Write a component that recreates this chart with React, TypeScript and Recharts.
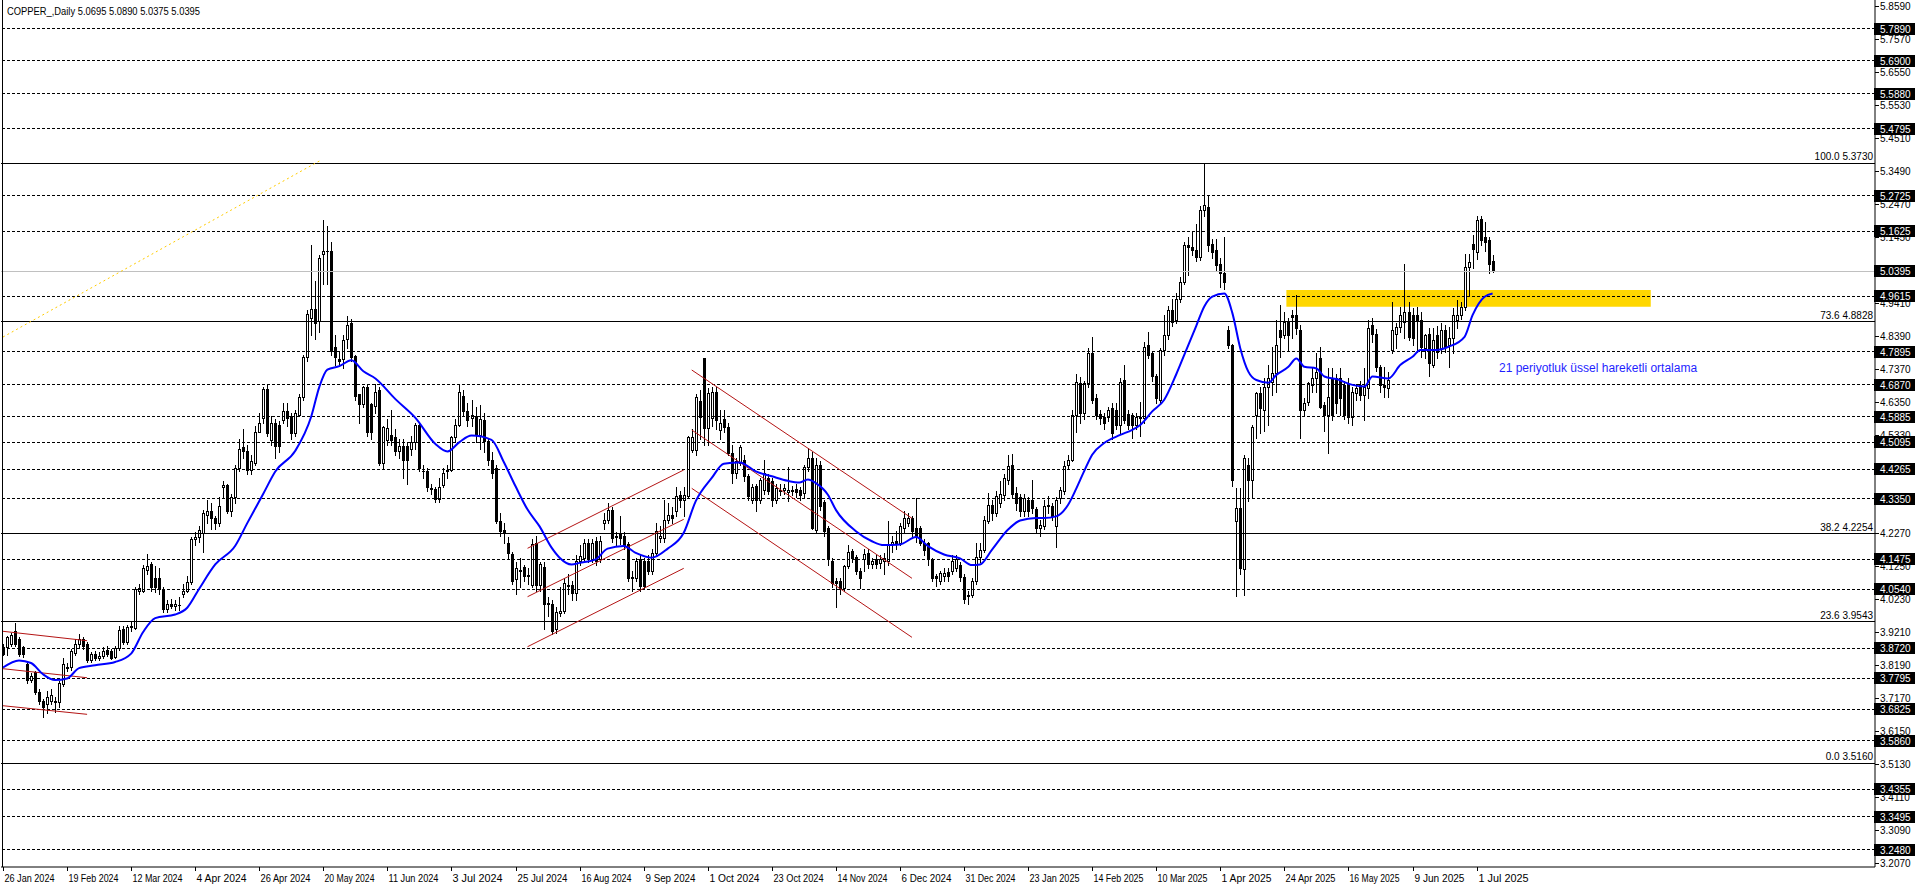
import React from "react";
import {
  ComposedChart,
  Bar,
  Line,
  XAxis,
  YAxis,
  ReferenceLine,
  ReferenceArea,
} from "recharts";

const W = 1916;
const H = 888;
const SLOTS = 468; // bar slots incl. empty space on the right
const Y_MIN = 3.1944;
const Y_MAX = 5.8786;
const FONT = "'Liberation Sans', Arial, sans-serif";

// daily candles [open, high, low, close], 26 Jan 2024 onwards
const BARS_2024_H1: number[][] = [
  [3.876,3.885,3.850,3.855],[3.876,3.910,3.850,3.905],[3.886,3.920,3.880,3.913],[3.925,3.951,3.880,3.886],
  [3.900,3.905,3.848,3.853],[3.876,3.880,3.845,3.853],[3.822,3.830,3.765,3.773],[3.773,3.795,3.768,3.786],
  [3.797,3.800,3.730,3.735],[3.737,3.745,3.700,3.707],[3.709,3.715,3.660,3.689],[3.699,3.740,3.670,3.722],
  [3.709,3.745,3.700,3.728],[3.709,3.720,3.675,3.706],[3.704,3.770,3.690,3.763],[3.761,3.840,3.755,3.824],
  [3.814,3.825,3.800,3.812],[3.814,3.870,3.805,3.864],[3.858,3.900,3.850,3.884],[3.884,3.915,3.875,3.900],
  [3.900,3.905,3.870,3.879],[3.886,3.890,3.830,3.836],[3.836,3.860,3.830,3.855],[3.853,3.862,3.835,3.841],
  [3.841,3.860,3.835,3.848],[3.848,3.875,3.840,3.864],[3.866,3.880,3.848,3.853],[3.864,3.870,3.838,3.843],
  [3.845,3.880,3.840,3.872],[3.872,3.940,3.865,3.927],[3.930,3.940,3.885,3.892],[3.892,3.945,3.885,3.936],
  [3.936,3.955,3.925,3.941],[3.935,4.060,3.930,4.056],[4.050,4.070,4.040,4.058],[4.050,4.130,4.045,4.120],
  [4.114,4.163,4.100,4.125],[4.131,4.140,4.050,4.061],[4.088,4.125,4.045,4.061],[4.088,4.120,4.040,4.056],
  [4.056,4.060,3.985,3.992],[3.992,4.020,3.985,4.008],[4.008,4.025,3.995,4.002],[4.002,4.020,3.990,4.008],
  [4.005,4.030,3.990,4.006],[4.040,4.070,4.030,4.050],[4.050,4.095,4.045,4.077],[4.077,4.215,4.070,4.211],
  [4.211,4.230,4.190,4.216],[4.216,4.250,4.200,4.237],[4.227,4.300,4.170,4.291],[4.285,4.330,4.260,4.296],
  [4.296,4.320,4.240,4.275],[4.275,4.280,4.240,4.259],[4.259,4.340,4.250,4.312],[4.371,4.390,4.340,4.376],
  [4.376,4.380,4.290,4.296],[4.296,4.350,4.280,4.339],[4.339,4.440,4.320,4.430],[4.430,4.520,4.420,4.488],
  [4.494,4.550,4.460,4.483],[4.483,4.500,4.410,4.424],[4.424,4.470,4.410,4.451],[4.446,4.560,4.440,4.542],
  [4.542,4.600,4.540,4.569],[4.585,4.680,4.570,4.675],[4.675,4.690,4.530,4.537],[4.515,4.590,4.500,4.569],
  [4.569,4.580,4.460,4.499],[4.563,4.575,4.480,4.499],[4.579,4.630,4.570,4.606],[4.606,4.630,4.560,4.585],
  [4.590,4.600,4.520,4.537],[4.537,4.610,4.530,4.601],[4.595,4.660,4.590,4.649],[4.649,4.780,4.640,4.772],
  [4.772,4.920,4.760,4.905],[4.894,5.120,4.840,4.921],[4.921,5.010,4.830,4.878],[4.884,5.090,4.850,5.081],
  [5.092,5.199,5.000,5.103],[5.103,5.180,5.000,5.100],[5.103,5.130,4.780,4.793],[4.804,4.840,4.750,4.772],
  [4.766,4.790,4.750,4.761],[4.766,4.840,4.740,4.825],[4.830,4.900,4.800,4.873],[4.878,4.890,4.760,4.772],
  [4.777,4.780,4.640,4.654],[4.659,4.660,4.570,4.627],[4.627,4.685,4.620,4.681],[4.681,4.690,4.530,4.542],
  [4.627,4.630,4.520,4.542],[4.622,4.690,4.600,4.665],[4.670,4.680,4.440,4.446],[4.446,4.560,4.430,4.558],
  [4.515,4.580,4.500,4.553],[4.531,4.610,4.500,4.515],[4.526,4.550,4.470,4.483],[4.483,4.520,4.460,4.499],
  [4.499,4.520,4.400,4.456],[4.499,4.510,4.380,4.456],[4.488,4.530,4.470,4.510],[4.510,4.570,4.490,4.563],
  [4.563,4.570,4.420,4.430],[4.421,4.440,4.400,4.419],[4.419,4.430,4.360,4.371],[4.368,4.380,4.350,4.366],
  [4.366,4.370,4.325,4.334],[4.334,4.400,4.325,4.371],[4.376,4.430,4.370,4.414],[4.419,4.440,4.400,4.424],
  [4.424,4.530,4.420,4.526],[4.526,4.580,4.510,4.563],[4.563,4.690,4.560,4.665],[4.654,4.670,4.590,4.606],
  [4.606,4.630,4.560,4.579],[4.584,4.640,4.560,4.594],[4.592,4.620,4.510,4.532],[4.532,4.625,4.490,4.580],
];

const BARS_2024_H2: number[][] = [
  [4.579,4.600,4.480,4.512],[4.512,4.520,4.440,4.455],[4.455,4.480,4.400,4.414],[4.430,4.440,4.260,4.265],
  [4.265,4.290,4.220,4.234],[4.239,4.260,4.198,4.229],[4.198,4.215,4.150,4.167],[4.162,4.170,4.070,4.080],
  [4.085,4.140,4.039,4.119],[4.113,4.150,4.060,4.111],[4.123,4.130,4.080,4.095],[4.098,4.120,4.070,4.095],
  [4.069,4.210,4.060,4.193],[4.198,4.220,4.050,4.069],[4.069,4.140,4.050,4.131],[4.123,4.140,3.930,4.008],
  [4.013,4.030,3.970,4.008],[4.010,4.020,3.915,3.925],[3.930,4.000,3.920,3.985],[3.982,4.060,3.970,3.987],
  [3.987,4.090,3.980,4.075],[4.064,4.100,4.040,4.069],[4.069,4.080,4.020,4.044],[4.044,4.160,4.020,4.141],
  [4.141,4.190,4.130,4.157],[4.152,4.210,4.140,4.198],[4.198,4.210,4.140,4.152],[4.147,4.210,4.140,4.198],
  [4.203,4.215,4.130,4.141],[4.147,4.220,4.140,4.203],[4.260,4.290,4.240,4.270],[4.270,4.320,4.260,4.301],
  [4.301,4.310,4.200,4.213],[4.218,4.230,4.190,4.215],[4.224,4.280,4.195,4.213],[4.218,4.230,4.180,4.188],
  [4.195,4.200,4.080,4.090],[4.093,4.110,4.049,4.090],[4.090,4.150,4.080,4.141],[4.147,4.160,4.050,4.064],
  [4.141,4.150,4.055,4.064],[4.141,4.160,4.100,4.111],[4.111,4.180,4.100,4.167],[4.167,4.260,4.160,4.234],
  [4.213,4.250,4.200,4.218],[4.213,4.330,4.200,4.270],[4.270,4.320,4.260,4.285],[4.285,4.310,4.260,4.275],
  [4.296,4.370,4.280,4.342],[4.347,4.360,4.310,4.332],[4.332,4.370,4.280,4.347],[4.342,4.530,4.340,4.527],
  [4.486,4.550,4.480,4.527],[4.486,4.660,4.470,4.648],[4.638,4.670,4.520,4.589],[4.769,4.771,4.500,4.553],
  [4.553,4.677,4.500,4.661],[4.584,4.680,4.560,4.664],[4.664,4.680,4.550,4.579],[4.548,4.610,4.520,4.568],
  [4.582,4.610,4.540,4.558],[4.558,4.570,4.470,4.476],[4.476,4.500,4.383,4.414],[4.414,4.460,4.400,4.450],
  [4.445,4.500,4.440,4.496],[4.455,4.470,4.390,4.404],[4.404,4.410,4.330,4.342],[4.332,4.380,4.320,4.370],
  [4.373,4.380,4.296,4.332],[4.332,4.400,4.320,4.394],[4.363,4.455,4.350,4.414],[4.399,4.410,4.350,4.358],
  [4.389,4.400,4.311,4.332],[4.332,4.380,4.320,4.368],[4.363,4.380,4.345,4.360],[4.363,4.380,4.350,4.368],
  [4.355,4.432,4.327,4.363],[4.363,4.375,4.345,4.358],[4.366,4.380,4.340,4.355],[4.363,4.370,4.330,4.347],
  [4.352,4.440,4.340,4.432],[4.432,4.491,4.420,4.460],[4.460,4.480,4.240,4.244],[4.239,4.460,4.230,4.440],
  [4.440,4.450,4.300,4.311],[4.325,4.330,4.220,4.234],[4.244,4.250,4.130,4.147],[4.141,4.150,4.060,4.075],
  [4.080,4.090,3.998,4.075],[4.080,4.090,4.040,4.059],[4.059,4.130,4.050,4.126],[4.126,4.190,4.120,4.170],
  [4.172,4.180,4.140,4.152],[4.154,4.160,4.100,4.111],[4.111,4.120,4.059,4.090],[4.147,4.180,4.110,4.164],
  [4.167,4.180,4.120,4.131],[4.131,4.150,4.120,4.141],[4.147,4.160,4.120,4.131],[4.136,4.160,4.120,4.147],
  [4.141,4.165,4.100,4.152],[4.141,4.265,4.130,4.195],[4.195,4.220,4.170,4.201],[4.203,4.234,4.180,4.195],
  [4.198,4.260,4.190,4.249],[4.244,4.296,4.230,4.275],[4.260,4.290,4.250,4.275],[4.275,4.280,4.220,4.234],
  [4.244,4.337,4.200,4.218],[4.244,4.250,4.190,4.198],[4.198,4.210,4.160,4.177],[4.198,4.200,4.130,4.147],
  [4.147,4.150,4.080,4.090],[4.095,4.100,4.065,4.090],[4.080,4.110,4.070,4.105],[4.095,4.120,4.080,4.105],
  [4.108,4.120,4.080,4.095],
];

const BARS_2025: number[][] = [
  [4.110,4.160,4.100,4.141],[4.121,4.160,4.110,4.147],[4.128,4.140,4.080,4.092],[4.092,4.100,4.013,4.023],
  [4.033,4.050,4.010,4.038],[4.038,4.090,4.030,4.080],[4.080,4.198,4.070,4.154],[4.154,4.198,4.140,4.177],
  [4.177,4.280,4.170,4.270],[4.265,4.352,4.260,4.316],[4.316,4.330,4.270,4.291],[4.291,4.360,4.280,4.342],
  [4.321,4.390,4.310,4.349],[4.347,4.410,4.330,4.399],[4.394,4.470,4.380,4.435],[4.438,4.473,4.340,4.349],
  [4.352,4.370,4.300,4.321],[4.339,4.350,4.280,4.296],[4.296,4.350,4.280,4.337],[4.332,4.340,4.280,4.296],
  [4.332,4.394,4.290,4.306],[4.304,4.310,4.230,4.244],[4.244,4.270,4.220,4.254],[4.249,4.330,4.240,4.311],
  [4.311,4.342,4.290,4.316],[4.311,4.320,4.270,4.280],[4.249,4.340,4.185,4.332],[4.337,4.370,4.320,4.363],
  [4.357,4.450,4.350,4.435],[4.440,4.470,4.430,4.455],[4.455,4.610,4.450,4.594],[4.594,4.720,4.540,4.697],
  [4.692,4.710,4.570,4.599],[4.599,4.700,4.580,4.692],[4.692,4.800,4.680,4.785],[4.785,4.836,4.630,4.641],
  [4.646,4.660,4.580,4.594],[4.596,4.610,4.565,4.584],[4.589,4.600,4.550,4.568],[4.589,4.620,4.575,4.610],
  [4.615,4.630,4.520,4.538],[4.610,4.630,4.550,4.563],[4.563,4.707,4.538,4.697],[4.702,4.749,4.570,4.579],
  [4.596,4.610,4.550,4.563],[4.594,4.600,4.522,4.563],[4.563,4.600,4.550,4.589],[4.589,4.635,4.530,4.584],
  [4.584,4.820,4.570,4.805],[4.810,4.851,4.770,4.779],[4.785,4.790,4.700,4.713],[4.713,4.720,4.630,4.646],
  [4.641,4.800,4.630,4.795],[4.795,4.903,4.780,4.841],[4.841,4.930,4.830,4.918],[4.918,4.954,4.870,4.882],
  [4.887,4.970,4.880,4.954],[4.954,5.020,4.945,5.006],[5.006,5.130,5.000,5.119],[5.119,5.145,5.026,5.114],
  [5.114,5.160,5.090,5.104],[5.104,5.186,5.070,5.083],[5.083,5.240,5.075,5.227],[5.227,5.373,5.210,5.243],
  [5.237,5.273,5.100,5.119],[5.124,5.140,5.080,5.098],[5.104,5.140,5.040,5.057],[5.062,5.080,4.990,5.032],
  [5.032,5.145,4.985,5.006],[4.857,4.870,4.800,4.810],[4.810,4.815,4.373,4.394],[4.265,4.368,4.033,4.306],
  [4.306,4.368,4.100,4.121],[4.116,4.470,4.038,4.462],[4.440,4.460,4.327,4.394],[4.394,4.563,4.337,4.558],
  [4.594,4.666,4.522,4.661],[4.661,4.682,4.538,4.615],[4.610,4.707,4.543,4.682],[4.682,4.749,4.563,4.707],
  [4.697,4.805,4.656,4.723],[4.723,4.888,4.666,4.810],[4.857,4.934,4.774,4.836],[4.841,4.913,4.831,4.882],
  [4.882,4.893,4.795,4.841],[4.903,4.918,4.831,4.898],[4.903,4.965,4.846,4.862],[4.857,4.872,4.522,4.610],
  [4.610,4.646,4.594,4.630],[4.635,4.697,4.625,4.692],[4.687,4.738,4.666,4.707],[4.707,4.785,4.666,4.728],
  [4.769,4.805,4.615,4.620],[4.625,4.635,4.543,4.594],[4.594,4.738,4.476,4.651],[4.707,4.738,4.579,4.594],
  [4.707,4.720,4.600,4.630],[4.707,4.738,4.594,4.646],[4.687,4.700,4.580,4.594],[4.687,4.707,4.568,4.589],
  [4.589,4.682,4.563,4.666],[4.661,4.690,4.640,4.677],[4.687,4.700,4.640,4.656],[4.656,4.738,4.579,4.682],
  [4.677,4.888,4.646,4.862],[4.872,4.893,4.820,4.846],[4.846,4.860,4.730,4.743],[4.743,4.750,4.666,4.687],
  [4.687,4.743,4.651,4.682],[4.677,4.728,4.651,4.702],[4.795,4.944,4.785,4.857],[4.846,4.880,4.800,4.867],
  [4.867,4.929,4.850,4.903],[4.882,5.062,4.831,4.913],[4.913,4.944,4.826,4.836],[4.903,4.924,4.810,4.831],
  [4.903,4.929,4.790,4.888],[4.888,4.913,4.774,4.805],[4.800,4.846,4.769,4.841],[4.846,4.862,4.713,4.754],
  [4.749,4.862,4.743,4.826],[4.841,4.870,4.770,4.790],[4.800,4.880,4.785,4.857],[4.857,4.872,4.790,4.805],
  [4.810,4.867,4.743,4.831],[4.831,4.924,4.785,4.903],[4.888,4.949,4.862,4.903],[4.903,4.944,4.890,4.929],
  [4.929,5.093,4.918,5.052],[5.052,5.093,4.965,5.068],[5.124,5.150,5.050,5.109],[5.098,5.210,5.078,5.196],
  [5.201,5.210,5.120,5.135],[5.145,5.190,5.100,5.129],[5.135,5.145,5.032,5.062],[5.0695,5.089,5.0375,5.0395],
];

// 21 period EMA read at these bars
const EMA_AT = [
  0, 4, 7, 10, 13, 16, 19, 23, 28, 32, 35, 38, 43, 46, 49, 53, 58, 61, 65, 68, 73, 77, 79, 81, 84, 87, 90, 93,
  98, 103, 108, 111, 114, 117, 122, 125, 128, 131, 134, 137, 139, 142, 144, 148, 151, 155, 158, 162, 166, 170,
  173, 177, 180, 184, 188, 192, 196, 199, 201, 203, 206, 208, 213, 217, 220, 224, 228, 231, 235, 239, 242, 244,
  247, 251, 254, 258, 260, 263, 266, 268, 270, 272, 275, 279, 282, 284, 287, 290, 293, 295, 298, 300, 302, 305,
  307, 309, 311, 313, 316, 318, 321, 323, 325, 328, 330, 333, 337, 340, 342, 346, 349, 352, 354, 358, 361, 365,
  367, 370, 372,
];
const EMA_VALUES = [
  3.812, 3.834, 3.826, 3.791, 3.773, 3.778, 3.810, 3.819, 3.829, 3.855, 3.922, 3.965, 3.976, 3.997, 4.056, 4.131,
  4.189, 4.259, 4.350, 4.419, 4.483, 4.590, 4.681, 4.734, 4.745, 4.763, 4.729, 4.707, 4.643, 4.585, 4.504, 4.481,
  4.510, 4.530, 4.517, 4.450, 4.373, 4.301, 4.249, 4.183, 4.152, 4.131, 4.136, 4.147, 4.180, 4.188, 4.167, 4.152,
  4.180, 4.229, 4.327, 4.399, 4.443, 4.447, 4.419, 4.404, 4.390, 4.385, 4.394, 4.383, 4.347, 4.300, 4.234, 4.203,
  4.191, 4.193, 4.216, 4.188, 4.162, 4.150, 4.129, 4.131, 4.177, 4.239, 4.267, 4.275, 4.275, 4.280, 4.316, 4.365,
  4.420, 4.471, 4.507, 4.532, 4.548, 4.563, 4.605, 4.641, 4.720, 4.780, 4.870, 4.930, 4.960, 4.970, 4.910, 4.800,
  4.728, 4.702, 4.694, 4.718, 4.743, 4.769, 4.743, 4.738, 4.713, 4.705, 4.687, 4.682, 4.713, 4.707, 4.749, 4.774,
  4.795, 4.795, 4.805, 4.836, 4.903, 4.960, 4.970,
];

const DATE_LABELS = [
  "26 Jan 2024", "19 Feb 2024", "12 Mar 2024", "4 Apr 2024", "26 Apr 2024", "20 May 2024", "11 Jun 2024",
  "3 Jul 2024", "25 Jul 2024", "16 Aug 2024", "9 Sep 2024", "1 Oct 2024", "23 Oct 2024", "14 Nov 2024",
  "6 Dec 2024", "31 Dec 2024", "23 Jan 2025", "14 Feb 2025", "10 Mar 2025", "1 Apr 2025", "24 Apr 2025",
  "16 May 2025", "9 Jun 2025", "1 Jul 2025",
];
const DATE_STEP = 16;

const Y_TICKS = [
  5.859, 5.757, 5.655, 5.553, 5.451, 5.349, 5.247, 5.145, 5.043, 4.941, 4.839, 4.737, 4.635, 4.533,
  4.431, 4.329, 4.227, 4.125, 4.023, 3.921, 3.819, 3.717, 3.615, 3.513, 3.411, 3.309, 3.207,
];

// dashed horizontal levels
const LEVELS = [
  5.789, 5.69, 5.588, 5.4795, 5.2725, 5.1625, 4.9615, 4.7895, 4.687, 4.5885, 4.5095, 4.4265, 4.335,
  4.1475, 4.054, 3.872, 3.7795, 3.6825, 3.586, 3.4355, 3.3495, 3.248,
];
const LAST_PRICE = 5.0395;

const FIB_LEVELS = ["100.0", "73.6", "38.2", "23.6", "0.0"];
const FIB_PRICES = [5.373, 4.8828, 4.2254, 3.9543, 3.516];

// trend lines: [bar1, price1, bar2, price2]
const RED_LINES = [
  [0, 3.9241, 21, 3.895],
  [0, 3.8083, 21, 3.7804],
  [0, 3.6937, 21, 3.6671],
  [131, 4.1811, 170, 4.4235],
  [131, 4.0312, 170, 4.2708],
  [131, 3.8764, 170, 4.1191],
  [172, 4.7331, 227, 4.2739],
  [172, 4.5473, 227, 4.0882],
  [172, 4.3668, 227, 3.9055],
];
const FIB_TREND = [0, 4.8352, 79, 5.3801];
const ZONE = [321, 411, 4.929, 4.981];

const CANDLES = [...BARS_2024_H1, ...BARS_2024_H2, ...BARS_2025];
const EMA_BY_BAR = new Map(EMA_AT.map((b, k) => [b, EMA_VALUES[k]]));
const BOXED = new Set([...LEVELS, LAST_PRICE]);

const DATA = Array.from({ length: SLOTS }, (_, i) => {
  const c = CANDLES[i];
  return {
    i,
    ohlc: c ?? null,
    range: c ? [c[2], c[1]] : null,
    ema: EMA_BY_BAR.has(i) ? EMA_BY_BAR.get(i) : null,
  };
});

function Candle(props: any) {
  const { x, y, width, height, payload } = props;
  if (!payload || !payload.ohlc || x == null) return null;
  const [o, h, l, c] = payload.ohlc;
  const top = Math.min(y, y + height);
  const bot = Math.max(y, y + height);
  const py = (v: number) => (h === l ? top : top + ((h - v) / (h - l)) * (bot - top));
  const px = Math.round(x + width / 2) + 0.5;
  const b1 = Math.round(Math.min(py(o), py(c)));
  const b2 = Math.round(Math.max(py(o), py(c)));
  return (
    <g shapeRendering="crispEdges">
      <line x1={px} x2={px} y1={Math.round(top)} y2={Math.round(bot) + 1} stroke="#000" />
      {b2 - b1 < 1 ? (
        <line x1={px - 1.5} x2={px + 1.5} y1={b1 + 0.5} y2={b1 + 0.5} stroke="#000" />
      ) : (
        <rect x={px - 1} y={b1 + 0.5} width={2} height={b2 - b1} fill={c >= o ? "#fff" : "#000"} stroke="#000" />
      )}
    </g>
  );
}

function PriceTick(props: any) {
  const { x, y, payload } = props;
  const v = payload.value as number;
  const yy = Math.round(y);
  if (BOXED.has(v)) {
    return (
      <g>
        <rect x={x - 1} y={yy - 6} width={41} height={12} fill="#000" />
        <text x={x + 5} y={yy + 4} fill="#fff" fontSize={10} fontFamily={FONT}>
          {v.toFixed(4)}
        </text>
      </g>
    );
  }
  return (
    <g>
      <line x1={x} x2={x + 4} y1={yy + 0.5} y2={yy + 0.5} stroke="#000" />
      <text x={x + 5} y={yy + 4} fill="#000" fontSize={10} fontFamily={FONT}>
        {v.toFixed(4)}
      </text>
    </g>
  );
}

function DateTick(props: any) {
  const { x, y, payload } = props;
  const label = DATE_LABELS[Math.round(payload.value / DATE_STEP)];
  const px = Math.round(x) + 0.5;
  return (
    <g>
      <line x1={px} x2={px} y1={y} y2={y + 4} stroke="#000" />
      <text x={px + 1} y={y + 15} fill="#000" fontSize={10} fontFamily={FONT} textLength={50} lengthAdjust="spacingAndGlyphs">
        {label}
      </text>
    </g>
  );
}

function fibLabel(text: string) {
  return (p: any) => {
    const vb = p.viewBox || {};
    return (
      <text x={vb.x + vb.width - 2} y={vb.y - 3} textAnchor="end" fontSize={10} fontFamily={FONT} fill="#000">
        {text}
      </text>
    );
  };
}

export default function App() {
  const dateTicks = DATE_LABELS.map((_, k) => k * DATE_STEP);
  return (
    <div style={{ position: "relative", width: W, height: H, background: "#fff", overflow: "hidden" }}>
      <style>{`body{margin:0}`}</style>
      <ComposedChart
        width={W}
        height={H}
        data={DATA}
        margin={{ top: 0, right: 0, bottom: 0, left: 1 }}
        barCategoryGap={0}
        barGap={0}
      >
        <XAxis
          dataKey="i"
          type="category"
          ticks={dateTicks}
          interval={0}
          height={21}
          tickLine={false}
          tickSize={0}
          tickMargin={0}
          tick={<DateTick />}
          axisLine={{ stroke: "#000" }}
        />
        <YAxis
          orientation="right"
          type="number"
          domain={[Y_MIN, Y_MAX]}
          allowDataOverflow
          ticks={[...Y_TICKS, ...LEVELS, LAST_PRICE]}
          interval={0}
          width={41}
          tickLine={false}
          tickSize={0}
          tickMargin={0}
          tick={<PriceTick />}
          axisLine={{ stroke: "#000" }}
        />
        <ReferenceArea
          x1={ZONE[0]}
          x2={ZONE[1]}
          y1={ZONE[2]}
          y2={ZONE[3]}
          fill="#ffd700"
          fillOpacity={1}
          stroke="none"
        />
        {LEVELS.map((v) => (
          <ReferenceLine key={"l" + v} y={v} stroke="#000" strokeDasharray="3 2" shapeRendering="crispEdges" />
        ))}
        <ReferenceLine y={LAST_PRICE} stroke="#c0c0c0" shapeRendering="crispEdges" />
        {FIB_PRICES.map((v, k) => (
          <ReferenceLine
            key={"f" + v}
            y={v}
            stroke="#000"
            shapeRendering="crispEdges"
            label={fibLabel(`${FIB_LEVELS[k]} ${v.toFixed(4)}`)}
          />
        ))}
        <ReferenceLine
          segment={[
            { x: FIB_TREND[0], y: FIB_TREND[1] },
            { x: FIB_TREND[2], y: FIB_TREND[3] },
          ]}
          stroke="#ffcc00"
          strokeDasharray="2 3"
        />
        {RED_LINES.map((s, k) => (
          <ReferenceLine
            key={"r" + k}
            segment={[
              { x: s[0], y: s[1] },
              { x: s[2], y: s[3] },
            ]}
            stroke="#b41414"
          />
        ))}
        <Bar dataKey="range" shape={(p: any) => <Candle {...p} />} isAnimationActive={false} />
        <Line
          dataKey="ema"
          type="monotone"
          stroke="#0000ff"
          strokeWidth={2}
          dot={false}
          activeDot={false}
          connectNulls
          isAnimationActive={false}
        />
      </ComposedChart>
      <div style={{ position: "absolute", left: 2, top: 0, width: 1, height: 867, background: "#000" }} />
      <svg style={{ position: "absolute", left: 0, top: 0 }} width={W} height={H} pointerEvents="none">
        <text x={7} y={15} fontSize={10} fontFamily={FONT} fill="#000" textLength={193} lengthAdjust="spacingAndGlyphs">
          COPPER_,Daily  5.0695 5.0890 5.0375 5.0395
        </text>
        <text x={1499} y={372} fontSize={12} fontFamily={FONT} fill="#1f1fff">
          21 periyotluk üssel hareketli ortalama
        </text>
      </svg>
    </div>
  );
}
